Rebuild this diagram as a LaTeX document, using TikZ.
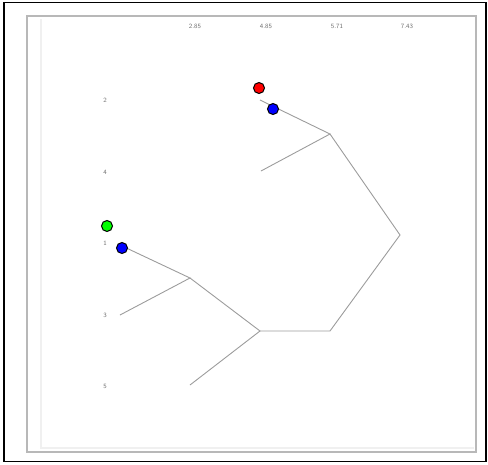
\documentclass[tikz,border=0pt]{standalone}
\usepackage{tikz}
\definecolor{edgegray}{HTML}{9C9C9C}
\definecolor{labgray}{HTML}{6E6E6E}
\definecolor{panelgray}{HTML}{B8B8B8}
\definecolor{shadegray}{HTML}{F0F0F0}
\tikzset{branch/.style={draw=edgegray,line width=0.9pt},tipdot/.style={circle,draw=black,line width=1pt,minimum size=11pt,inner sep=0pt},axlab/.style={font=\sffamily\fontsize{6.5}{7}\selectfont,text=labgray,inner sep=1pt}}

\begin{document}
\begin{tikzpicture}[x=1pt,y=-1pt]
\useasboundingbox (0,0) rectangle (488,464);
\draw[line width=1.4pt] (4,2.5) rectangle (486,461.5);
\draw[shadegray,line width=1.5pt] (41,19)--(41,448)--(474,448);
\draw[panelgray,line width=1.1pt] (27,16) rectangle (476,452);
\foreach \x/\t in {195/2.85,266/4.85,337/5.71,407/7.43}{\node[axlab] at (\x,26) {\t};}
\node[axlab] (t2) at (105,100) {2};\node[axlab] (t4) at (105,172) {4};\node[axlab] (t1) at (105,243) {1};
\node[axlab] (t3) at (105,315) {3};\node[axlab] (t5) at (105,386) {5};
\coordinate (l1) at (120,245);\coordinate (l3) at (120,315);\coordinate (l5) at (190,385);
\coordinate (l2) at (260,100);\coordinate (l4) at (261,171);
\coordinate (n13) at (190,278);\coordinate (n135) at (260,331);\coordinate (n24) at (330,134);
\coordinate (m) at (330,331);\coordinate (root) at (400,235);
\draw[branch] (l1)--(n13)--(l3);\draw[branch] (n13)--(n135)--(l5);
\draw[branch] (n135)--(m)--(root)--(n24);
\draw[branch] (l2)--(n24)--(l4);
\node[tipdot,fill=green] (g1) at (107,226) {};\node[tipdot,fill=blue] (b1) at (122,248) {};
\node[tipdot,fill=red] (r2) at (259,88) {};\node[tipdot,fill=blue] (b2) at (273,109) {};
\end{tikzpicture}
\end{document}
